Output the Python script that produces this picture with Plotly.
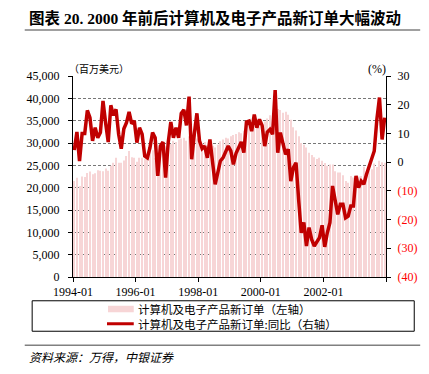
import plotly.graph_objects as go

# ---------------- data ----------------
years = list(range(1994, 2004))
months = [f"{y}-{m:02d}" for y in years for m in range(1, 13)]
tick_labels = ["1994-01", "1996-01", "1998-01", "2000-01", "2002-01"]

orders = [  # 计算机及电子产品新订单 (百万美元)
    21500, 22200, 20400, 22500, 22400, 23300, 23600, 23000, 23200, 23900, 23800, 23700,
    24300, 23800, 24900, 25600, 26700, 25600, 25600, 26100, 27100, 28200, 26800, 26700,
    25800, 26700, 26700, 26500, 27600, 29000, 28400, 26700, 27100, 29000, 29000, 29300,
    29400, 29800, 30500, 30200, 30800, 31000, 31200, 30500, 31500, 30800, 30300, 31000,
    30600, 29800, 30200, 29500, 30100, 29400, 29000, 29600, 30400, 30800, 31200, 31000,
    31500, 31800, 32000, 32400, 32200, 32800, 33000, 33500, 33200, 33800, 34000, 33600,
    34200, 34800, 35500, 36200, 36800, 37300, 37600, 37400, 36800, 37000, 36300, 35200,
    33500, 32800, 31500, 30000, 29600, 29000, 27800, 27300, 26800, 26400, 26700, 26000,
    25500, 24900, 25200, 25200, 23700, 23400, 23400, 22800, 21500, 21100, 22600, 22300,
    21800, 22500, 22600, 24700, 23300, 23700, 24100, 25400, 24600, 26000, 25700, 25600,
]

yoy = [  # 同比 (%)
    4.2, 10.5, 0.4, 10.0, 10.0, 18.0, 15.5, 7.4, 12.0, 8.5, 10.3, 21.3,
    13.7, 7.0, 19.8, 16.3, 18.4, 9.7, 4.7, 11.6, 13.7, 17.5, 13.4, 14.3,
    6.8, 12.0, 9.7, 2.1, 1.5, 5.0, 10.3, 8.5, -4.8, 5.6, 7.0, -5.4,
    6.8, 14.0, 8.5, 12.0, 8.5, 17.0, 18.2, 12.8, 22.8, 1.0, 9.7, 17.0,
    7.4, 4.7, 5.6, 1.5, 7.9, 0.4, -7.7, -3.7, 0.4, 1.5, 3.9, 5.6,
    3.9, -0.8, 3.1, 5.0, 7.0, 3.3, 14.0, 14.3, 10.8, 16.6, 12.0, 14.9,
    12.8, 5.6, 10.5, 11.4, 9.7, 25.1, 3.3, 10.3, 7.0, 2.7, 4.5, -6.6,
    -1.9, -0.2, -13.0, -24.6, -21.0, -29.2, -22.8, -26.9, -29.2, -27.5, -26.3, -22.0,
    -29.5, -24.6, -21.1, -8.3, -13.6, -18.2, -14.7, -14.7, -19.4, -18.8, -15.3, -15.3,
    -4.8, -8.9, -6.6, -7.7, -4.3, -1.4, 1.0, 3.9, 14.9, 22.5, 7.9, 15.5,
]

left_ticks = list(range(0, 45001, 5000))
right_ticks = list(range(-40, 31, 10))

bar_name = "计算机及电子产品新订单（左轴）"
line_name = "计算机及电子产品新订单:同比（右轴）"
title_text = "图表 20. 2000 年前后计算机及电子产品新订单大幅波动"
source_text = "资料来源：万得，中银证券"

# ---------------- style ----------------
OFF = 8                      # browser body margin
PAGE_W, PAGE_H = 429, 374
W, H = PAGE_W - OFF, PAGE_H - 2 * OFF
L, R, T, B = 72.7, 388.5, 75.5, 276.7   # plot area in page pixels
SERIF = "Liberation Serif, Noto Sans CJK SC, serif"
CJK = "Noto Sans CJK SC, sans-serif"
BAR_COLOR = "#F7D5D6"
LINE_COLOR = "#C00000"

def px(x):
    return (x - L) / (R - L)

def py(y):
    return (B - y) / (B - T)

idx = list(range(len(months)))
tickvals = [months.index(t) - 0.5 for t in tick_labels] + [len(months) - 0.5]
ticktext = tick_labels + [""]

def fmt_right(v):
    if v < 0:
        return f'<span style="color:#FF0000">({-v})</span>'
    return str(v)

fig = go.Figure()
fig.add_trace(go.Bar(x=idx, y=orders, marker=dict(color=BAR_COLOR, line=dict(width=0)),
                     name=bar_name, yaxis="y"))
fig.add_trace(go.Scatter(x=idx, y=yoy, mode="lines", line=dict(color=LINE_COLOR, width=3.5),
                         name=line_name, yaxis="y2"))

fig.update_layout(
    width=W, height=H,
    margin=dict(l=L - OFF, r=(W + OFF) - R, t=T - OFF, b=(H + OFF) - B, pad=0),
    paper_bgcolor="white", plot_bgcolor="white",
    showlegend=False, bargap=0.6,
    font=dict(family=SERIF, size=12, color="black"),
    xaxis=dict(range=[-0.5, len(months) - 0.5], tickvals=tickvals, ticktext=ticktext,
               showline=True, linecolor="black", linewidth=1, ticks="outside", ticklen=4,
               tickcolor="black", showgrid=False, zeroline=False,
               tickfont=dict(family=SERIF, size=12)),
    yaxis=dict(range=[0, 45000], tickvals=left_ticks, tickformat=",", showline=True,
               linecolor="black", linewidth=1, ticks="outside", ticklen=4, tickcolor="black",
               showgrid=True, gridcolor="#777777", gridwidth=1, griddash="3px,2px",
               zeroline=False, tickfont=dict(family=SERIF, size=12), ticklabelstandoff=6),
    yaxis2=dict(range=[-40, 30], tickvals=right_ticks, ticktext=[fmt_right(v) for v in right_ticks],
                overlaying="y", side="right", showline=True, linecolor="black", linewidth=1,
                ticks="outside", ticklen=4, tickcolor="black", showgrid=False, zeroline=False,
                tickfont=dict(family=SERIF, size=12), ticklabelstandoff=4),
)

ann = []
ann.append(dict(text="<b>" + title_text + "</b>", x=px(26), y=py(17), xanchor="left", yanchor="middle",
                font=dict(family=SERIF, size=15.5, color="black")))
ann.append(dict(text="（百万美元）", x=px(67), y=py(68), xanchor="left", yanchor="middle",
                font=dict(family=CJK, size=10, color="black")))
ann.append(dict(text="(%)", x=px(391), y=py(68), xanchor="right", yanchor="middle",
                font=dict(family=SERIF, size=12, color="black")))
ann.append(dict(text=bar_name, x=px(136), y=py(309), xanchor="left", yanchor="middle",
                font=dict(family=CJK, size=11.5, color="black")))
ann.append(dict(text=line_name, x=px(136), y=py(323.5), xanchor="left", yanchor="middle",
                font=dict(family=CJK, size=11.5, color="black")))
ann.append(dict(text="<i>" + source_text + "</i>", x=px(26), y=py(356), xanchor="left", yanchor="middle",
                font=dict(family=CJK, size=12, color="black")))
for a in ann:
    a.update(xref="paper", yref="paper", showarrow=False)
fig.update_layout(annotations=ann)

shapes = [
    dict(type="line", x0=px(24), x1=px(423), y0=py(29.5), y1=py(29.5), line=dict(color="#808080", width=1.5)),
    dict(type="line", x0=px(24), x1=px(423), y0=py(345), y1=py(345), line=dict(color="#808080", width=1.5)),
    dict(type="rect", x0=px(31.5), x1=px(417), y0=py(300.5), y1=py(331), line=dict(color="black", width=1)),
    dict(type="rect", x0=px(108), x1=px(134), y0=py(305.5), y1=py(312), fillcolor=BAR_COLOR, line=dict(width=0)),
    dict(type="line", x0=px(107), x1=px(134), y0=py(323.5), y1=py(323.5), line=dict(color=LINE_COLOR, width=3)),
]
for s in shapes:
    s.update(xref="paper", yref="paper", layer="above")
fig.update_layout(shapes=shapes)

fig.write_html("out.html")
